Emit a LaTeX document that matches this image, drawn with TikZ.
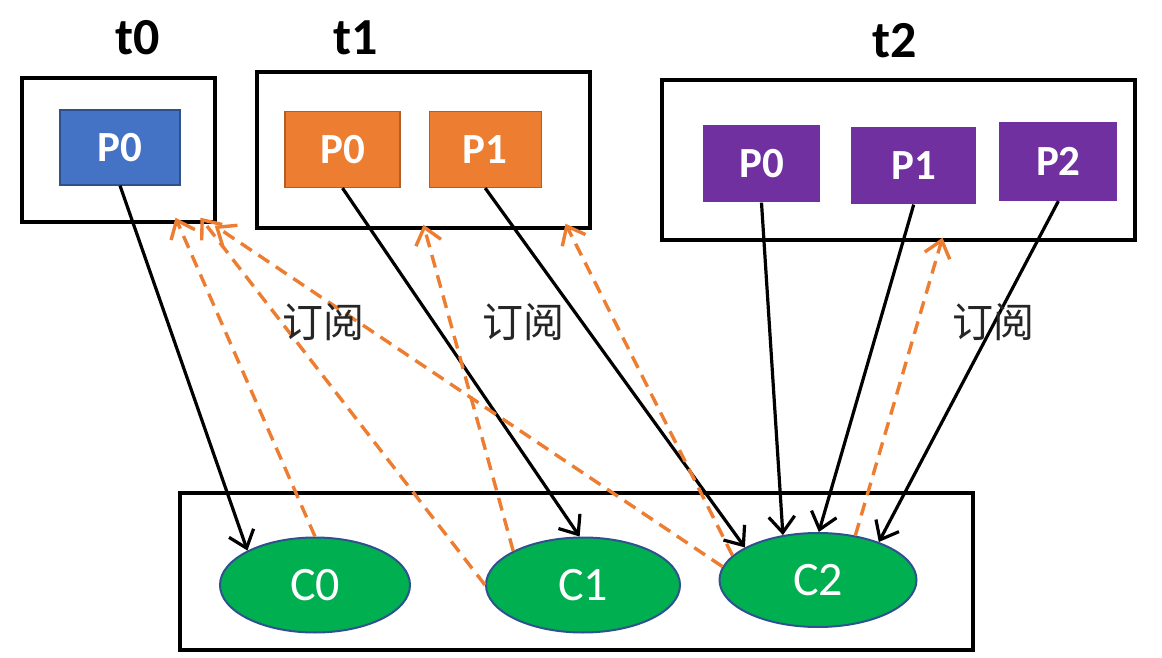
\documentclass[tikz,border=0pt]{standalone}
\usepackage{fontspec}
\setmainfont{Carlito}
\newfontfamily\cjk{Noto Sans CJK SC}
\usetikzlibrary{shapes.geometric,arrows.meta,positioning,calc}

\begin{document}
\begin{tikzpicture}[x=1pt, y=-1pt, auto]

% Define styles
\tikzstyle{topic} = [rectangle, draw=black, line width=3.4pt, inner sep=0pt]
\tikzstyle{part} = [rectangle, inner sep=0pt, minimum width=116pt, minimum height=76pt, line width=1.2pt, text=white, font=\fontsize{43}{46}\selectfont\bfseries]
\tikzstyle{consumer} = [ellipse, inner sep=0pt, minimum width=194pt, minimum height=95pt, draw=cborder, line width=2pt, text=white, font=\fontsize{48}{52}\selectfont]
\tikzstyle{title} = [font=\fontsize{52}{56}\selectfont\bfseries]
\tikzstyle{sublabel} = [font=\cjk\fontsize{41}{44}\selectfont, text=black!85]
\tikzstyle{assign} = [draw=black, line width=3.2pt, -{Straight Barb[length=16pt,width=26pt]}]
\tikzstyle{subscribe} = [draw=porange, line width=3.4pt, dash pattern=on 13pt off 8pt, -{Straight Barb[length=16pt,width=26pt]}]

\definecolor{pblue}{HTML}{4472C4}
\definecolor{porange}{HTML}{ED7D31}
\definecolor{ppurple}{HTML}{7030A0}
\definecolor{cgreen}{HTML}{00B050}
\definecolor{cborder}{HTML}{2F528F}

\useasboundingbox (0,0) rectangle (1162,658);

% TOPICS
\node (t0) [topic, minimum width=193pt, minimum height=144pt] at (118.5,150) {};
\node (t1) [topic, minimum width=333pt, minimum height=156pt] at (423.5,150) {};
\node (t2) [topic, minimum width=473pt, minimum height=160pt] at (898.5,160) {};

\node [title] at (138,38) {t0};
\node [title] at (356,38) {t1};
\node [title] at (895,41) {t2};

% PARTITIONS
\node (t0p0) [part, fill=pblue, draw=pblue!70!black, minimum width=120pt, minimum height=75pt] at (120,147.5) {P0};
\node (t1p0) [part, fill=porange, draw=porange!75!black, minimum width=115pt] at (342.5,149.5) {P0};
\node (t1p1) [part, fill=porange, draw=porange!75!black, minimum width=112pt, right=28pt of t1p0] {P1};
\node (t2p0) [part, fill=ppurple, minimum width=117pt, minimum height=77pt] at (761.5,163.5) {P0};
\node (t2p1) [part, fill=ppurple, minimum width=125pt, minimum height=77pt, right=30pt of t2p0, yshift=-2pt] {P1};
\node (t2p2) [part, fill=ppurple, minimum width=118pt, minimum height=78pt, right=22pt of t2p1, yshift=4pt] {P2};

% CONSUMER GROUP
\node (group) [topic, minimum width=793pt, minimum height=157pt] at (576.5,571.5) {};
\node (c0) [consumer, fill=cgreen, minimum width=190pt] at (315,585) {C0};
\node (c1) [consumer, fill=cgreen] at (583,585) {C1};
\node (c2) [consumer, fill=cgreen, minimum width=197pt, minimum height=94pt] at (818,580) {C2};

% Assignments
\draw [assign] (t0p0.south) -- (c0.153);
\draw [assign] (t1p0.south) -- (c1.94);
\draw [assign] (t1p1.south) -- (c2.156);
\draw [assign] (t2p0.south) -- (c2.128);
\draw [assign] (t2p1.south) -- (c2.89);
\draw [assign] (t2p2.south) -- (c2.32);

% Subscriptions
\draw [subscribe] (c0.north) -- ([xshift=57pt,yshift=6pt]t0.south);
\draw [subscribe] (c1.west) -- ([xshift=82pt,yshift=6pt]t0.south);
\draw [subscribe] (c2.172) -- ([xshift=-2pt,yshift=-2pt]t0.south east);
\draw [subscribe] (c1.154) -- ([yshift=5pt]t1.south);
\draw [subscribe] (c2.164) -- ([xshift=142pt,yshift=6pt]t1.south);
\draw [subscribe] (c2.50) -- ([xshift=44pt,yshift=4pt]t2.south);

\node [sublabel] at (323,322) {订阅};
\node [sublabel] at (523,322) {订阅};
\node [sublabel] at (993,322) {订阅};

\end{tikzpicture}
\end{document}
